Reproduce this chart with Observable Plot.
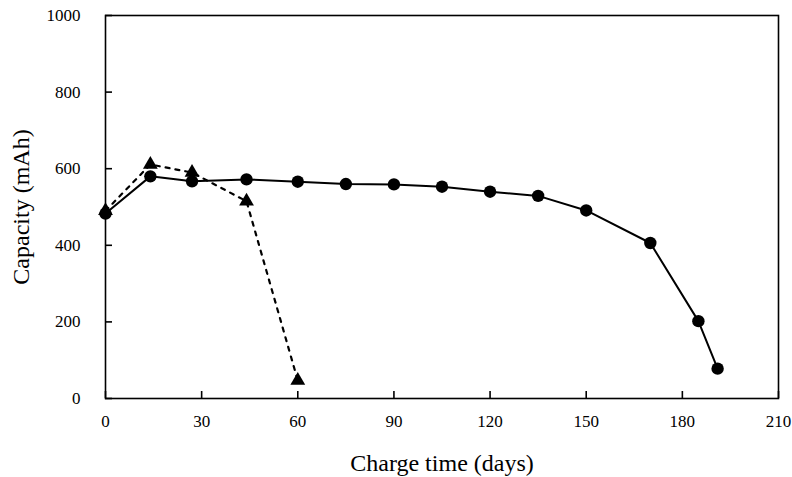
<!DOCTYPE html>
<html>
<head>
<meta charset="utf-8">
<script src="https://cdn.jsdelivr.net/npm/d3@7"></script>
<script src="https://cdn.jsdelivr.net/npm/@observablehq/plot@0.6"></script>
<style>
  html, body { margin: 0; padding: 0; background: #fff; }
  g[aria-label="x-axis label"], g[aria-label="y-axis label"] { font-size: 24px; }
</style>
</head>
<body>
<div id="chart"></div>
<script>
// Series A: solid line with circles
const circleDays = [0, 14, 27, 44, 60, 75, 90, 105, 120, 135, 150, 170, 185, 191];
const circleCap  = [483, 580, 567, 572, 566, 560, 559, 553, 540, 529, 491, 406, 202, 78];
// Series B: dotted line with triangles
const triDays = [0, 14, 27, 44, 60];
const triCap  = [490, 611, 590, 515, 47];

const xTicks = [0, 30, 60, 90, 120, 150, 180, 210];
const yTicks = [0, 200, 400, 600, 800, 1000];

const circles = circleDays.map((d, i) => ({day: d, cap: circleCap[i]}));
const tris = triDays.map((d, i) => ({day: d, cap: triCap[i]}));

const font = "'Liberation Serif', 'DejaVu Serif', serif";

const chart = Plot.plot({
  width: 792,
  height: 477,
  marginLeft: 105,
  marginRight: 14,
  marginTop: 15,
  marginBottom: 79,
  style: {fontFamily: font, fontSize: "17px", color: "#000", background: "#fff"},
  x: {domain: [0, 210]},
  y: {domain: [0, 1000]},
  marks: [
    Plot.frame({stroke: "#000", strokeWidth: 1.6}),
    // tick labels + titles
    Plot.axisX({ticks: xTicks, tickSize: 0, tickPadding: 16, tickFormat: "d",
      label: "Charge time (days)", labelAnchor: "center", labelArrow: "none", labelOffset: 72,
      fontSize: 17}),
    Plot.axisY({ticks: yTicks, tickSize: 0, tickPadding: 25, tickFormat: "d",
      label: "Capacity (mAh)", labelAnchor: "center", labelArrow: "none", labelOffset: 94,
      fontSize: 17}),
    // inward tick marks
    Plot.axisX({ticks: xTicks, text: null, label: null, tickSize: 7, dy: -7, strokeWidth: 1.6}),
    Plot.axisY({ticks: yTicks, text: null, label: null, tickSize: 7, dx: 7, strokeWidth: 1.6}),
    Plot.line(tris, {x: "day", y: "cap", stroke: "#000", strokeWidth: 2.2,
      strokeDasharray: "4,6", curve: "linear"}),
    Plot.line(circles, {x: "day", y: "cap", stroke: "#000", strokeWidth: 2}),
    Plot.dot(tris, {x: "day", y: "cap", symbol: "triangle", r: 5.5, fill: "#000"}),
    Plot.dot(circles, {x: "day", y: "cap", symbol: "circle", r: 6.2, fill: "#000"})
  ]
});

document.getElementById("chart").appendChild(chart);
</script>
</body>
</html>
